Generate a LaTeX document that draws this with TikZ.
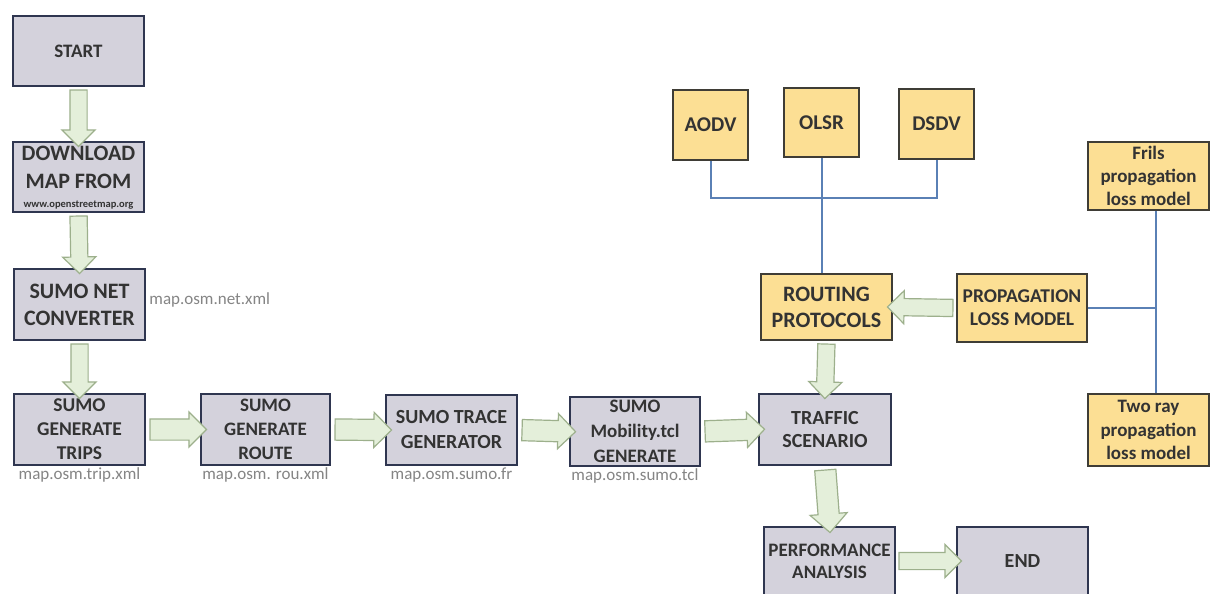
\documentclass[tikz,border=0pt]{standalone}
\usepackage{fontspec}
\setmainfont{Carlito}
\usetikzlibrary{shapes.arrows,calc}
\definecolor{gfill}{HTML}{D4D2DC}
\definecolor{gline}{HTML}{2F3650}
\definecolor{yfill}{HTML}{FCDF94}
\definecolor{yline}{HTML}{3F3D36}
\definecolor{afill}{HTML}{E4EFDA}
\definecolor{aline}{HTML}{9DB08C}
\definecolor{bline}{HTML}{5A80B5}
\definecolor{txt}{HTML}{333333}
\definecolor{captxt}{HTML}{858585}
\newcommand\blockarrow[3][]{%
  \path let \p1=#2, \p2=#3, \n1={atan2(\y2-\y1,\x2-\x1)}, \n2={veclen(\x2-\x1,\y2-\y1)+3pt} in
    node[garrow, #1, minimum height=\n2, rotate=\n1] at ($#2!0.5!#3$) {};%
}
\begin{document}
\begin{tikzpicture}[x=1pt,y=-1pt,
  box/.style={draw=gline, line width=2.5pt, fill=gfill, text=txt, align=center, inner sep=0pt},
  ybox/.style={box, draw=yline, fill=yfill},
  fs/.style n args={2}{font=\bfseries\fontsize{#1}{#2}\selectfont},
  garrow/.style={single arrow, draw=aline, fill=afill, line width=1.2pt,
    single arrow head extend=8pt, inner xsep=0pt, inner ysep=8pt, outer sep=0pt,
    single arrow head indent=0pt},
  harrow/.style={inner ysep=10pt, single arrow head extend=7pt},
  bl/.style={draw=bline, line width=2pt},
  captext/.style={text=captxt, font=\fontsize{17}{18}\selectfont, inner sep=1pt}]
\useasboundingbox (0,0) rectangle (1211,594);
\clip (0,0) rectangle (1211,594);
\fill[white] (0,0) rectangle (1211,594);

% main flow boxes
\node[box, fs={19}{23}, minimum width=131pt, minimum height=70pt] (start) at (78.5,51) {START};
\node[box, fs={22}{28}, minimum width=131pt, minimum height=70pt] (dl) at (78.5,177)
  {\\[-12pt]DOWNLOAD\\MAP FROM\\[-9pt]{\fontsize{10.5}{12}\selectfont www.openstreetmap.org}};
\node[box, fs={22}{27}, minimum width=131pt, minimum height=71pt] (net) at (79.5,304.5) {SUMO NET\\CONVERTER};
\node[box, fs={19.5}{24}, minimum width=131pt, minimum height=71pt] (trips) at (79.5,429.5) {SUMO\\GENERATE\\TRIPS};
\node[box, fs={19}{24}, minimum width=129pt, minimum height=71pt] (route) at (265.5,429.5) {SUMO\\GENERATE\\ROUTE};
\node[box, fs={20}{25}, minimum width=131pt, minimum height=70pt] (trace) at (451.5,430) {SUMO TRACE\\GENERATOR};
\node[box, fs={19}{25}, minimum width=130pt, minimum height=69pt] (mob) at (635,431.5) {SUMO\\Mobility.tcl\\GENERATE};
\node[box, fs={20}{23}, minimum width=132pt, minimum height=71pt] (traffic) at (825,429.5) {TRAFFIC\\SCENARIO};
\node[box, fs={19}{22}, minimum width=131pt, minimum height=68pt] (perf) at (829.5,561) {PERFORMANCE\\ANALYSIS};
\node[box, fs={20}{24}, minimum width=131pt, minimum height=68pt] (end) at (1022.5,561) {END};

% routing protocols
\node[ybox, fs={21}{25}, minimum width=75pt, minimum height=70pt] (aodv) at (710.5,125) {AODV};
\node[ybox, fs={21}{25}, minimum width=75pt, minimum height=69pt] (olsr) at (821.5,122.5) {OLSR};
\node[ybox, fs={21}{25}, minimum width=75pt, minimum height=70pt] (dsdv) at (936.5,124) {DSDV};
\node[ybox, fs={22}{26}, minimum width=131pt, minimum height=66pt] (routing) at (826.5,307) {ROUTING\\PROTOCOLS};
\node[ybox, fs={19.5}{23}, minimum width=130pt, minimum height=68pt] (prop) at (1022,308) {PROPAGATION\\LOSS MODEL};
\node[ybox, fs={19}{23}, minimum width=121pt, minimum height=68pt] (friis) at (1148.5,176) {Frils\\propagation\\loss model};
\node[ybox, fs={19}{23.5}, minimum width=121pt, minimum height=72pt] (tworay) at (1148.5,430) {Two ray\\propagation\\loss model};

% captions
\node[captext, anchor=west] (capnet) at ($(net.east)+(2,-4.5)$) {map.osm.net.xml};
\node[captext, anchor=north] (captrips) at (trips.south) {map.osm.trip.xml};
\node[captext, anchor=north] (caproute) at (route.south) {map.osm. rou.xml};
\node[captext, anchor=north] (captrace) at (trace.south) {map.osm.sumo.fr};
\node[captext, anchor=north] (capmob) at (mob.south) {map.osm.sumo.tcl};

% blue connectors
\coordinate (bus) at (0,198);
\coordinate (fx) at (1156,0);
\draw[bl] (aodv.south) -- (aodv.south |- bus) -| (dsdv.south);
\draw[bl] (olsr.south) -- (routing.north -| olsr.south);
\draw[bl] (friis.south -| fx) -- (tworay.north -| fx);
\draw[bl] (prop.east) -- (prop.east -| fx);

% green block arrows
\blockarrow{(start.south)}{(dl.north)}
\blockarrow{(dl.south)}{(net.north)}
\blockarrow{(net.south)}{(trips.north)}
\blockarrow[harrow]{(trips.east)}{(route.west)}
\blockarrow[harrow]{(route.east)}{(trace.west)}
\blockarrow[harrow]{(trace.east)}{(mob.west)}
\blockarrow[harrow]{(mob.east)}{(traffic.west)}
\blockarrow{(routing.south)}{(traffic.north)}
\blockarrow[inner ysep=10pt]{(traffic.south)}{(perf.north)}
\blockarrow{(perf.east)}{(end.west)}
\blockarrow{(prop.west)}{(routing.east)}
\end{tikzpicture}
\end{document}
